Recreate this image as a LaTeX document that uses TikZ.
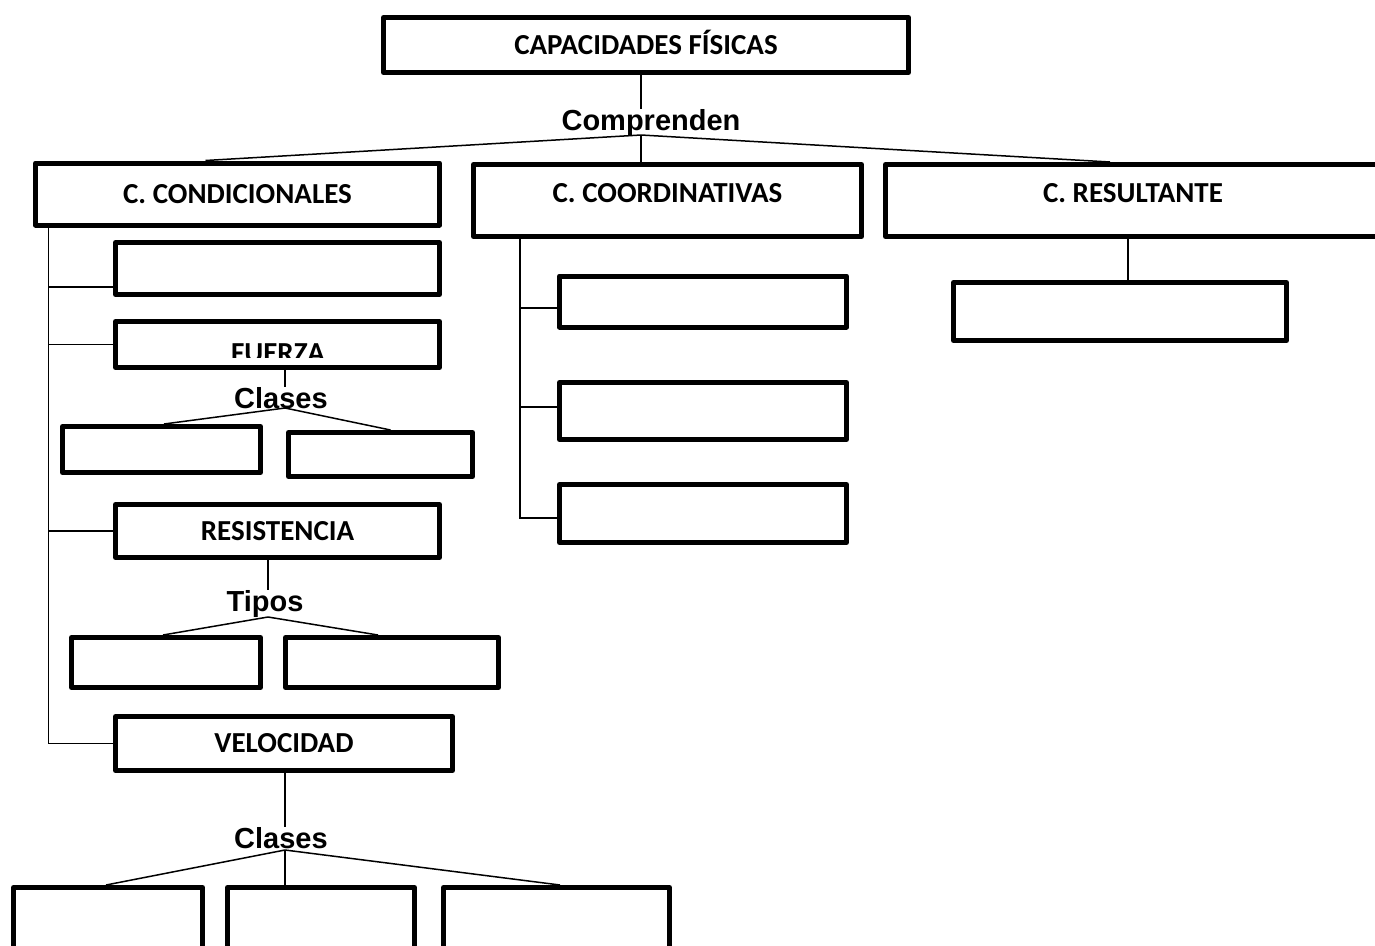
\documentclass[tikz,border=0pt]{standalone}
\usepackage{fontspec}
\setmainfont{Carlito}
\newfontfamily\arialfont{Liberation Sans}
\usetikzlibrary{calc}

\tikzset{
  box/.style = {draw, line width=5pt, line join=round, inner sep=0pt,
                font=\fontsize{29}{29}\selectfont\bfseries,
                text height=18.7pt, text depth=0pt},
  textup/.style = {text depth=15pt},
  tag/.style = {inner sep=0pt, anchor=base,
                font=\fontsize{29}{29}\selectfont\arialfont\bfseries},
  link/.style = {line width=1.5pt}
}

\begin{document}
\begin{tikzpicture}[x=1pt, y=-1pt]
  \clip (0,0) rectangle (1375,945);
  \fill[white] (0,0) rectangle (1375,945);

  % top level
  \node[box, minimum width=525pt, minimum height=55pt] (capac) at (646,45) {CAPACIDADES FÍSICAS};
  \node[tag] (comp) at (651,130) {Comprenden};
  \coordinate (cv) at (641,135);

  \node[box, minimum width=404pt, minimum height=62pt] (cond) at (237.5,194) {C. CONDICIONALES};
  \node[box, textup, minimum width=388pt, minimum height=72pt] (coord) at (667.5,200.5) {C. COORDINATIVAS};
  \node[box, textup, minimum width=495pt, minimum height=72pt] (result) at (1133,200.5) {C. RESULTANTE};

  \draw[link] (capac.south -| cv) -- (cv |- comp.north);
  \draw[link] (cv) -- ([xshift=-32pt]cond.north);
  \draw[link] (cv) -- (cv |- coord.north);
  \draw[link] (cv) -- ([xshift=-23pt]result.north);

  % condicionales
  \node[box, minimum width=324pt, minimum height=52pt] (cond1) at (277.5,268.5) {};
  \begin{scope}
    \clip (113,322) rectangle (442,357);
    \node[box, draw=none, anchor=base] (fuerzatxt) at (278,362) {FUERZA};
  \end{scope}
  \node[box, minimum width=324pt, minimum height=46pt] (fuerza) at (277.5,344.5) {};
  \node[box, minimum width=324pt, minimum height=53pt] (resist) at (277.5,531) {RESISTENCIA};
  \node[box, minimum width=337pt, minimum height=54pt] (veloc) at (284,743.5) {VELOCIDAD};

  \coordinate (csp) at ([xshift=15.5pt]cond.south west);
  \draw[link] (csp) |- (veloc.west);
  \draw[link] ([yshift=-18.5pt]cond1.west) -- ([yshift=-18.5pt]cond1.west -| csp);
  \foreach \n in {fuerza, resist}
    \draw[link] (\n.west) -- (\n.west -| csp);

  % fuerza: clases
  \node[tag] (fclases) at (281,408) {Clases};
  \coordinate (fv) at (285,408);
  \node[box, minimum width=198pt, minimum height=46pt] (fc1) at (161.5,449.5) {};
  \node[box, minimum width=184pt, minimum height=44pt] (fc2) at (380.5,454.5) {};
  \draw[link] (fuerza.south -| fv) -- (fv |- fclases.north);
  \draw[link] (fv) -- ([xshift=2.5pt]fc1.north);
  \draw[link] (fv) -- ([xshift=10pt]fc2.north);

  % resistencia: tipos
  \node[tag] (rtipos) at (265,611) {Tipos};
  \coordinate (rv) at (268,617);
  \node[box, minimum width=189pt, minimum height=50pt] (rt1) at (166,662.5) {};
  \node[box, minimum width=213pt, minimum height=50pt] (rt2) at (392,662.5) {};
  \draw[link] (resist.south -| rv) -- (rv |- rtipos.north);
  \draw[link] (rv) -- ([xshift=-3pt]rt1.north);
  \draw[link] (rv) -- ([xshift=-14pt]rt2.north);

  % velocidad: clases
  \node[tag] (vclases) at (281,848) {Clases};
  \coordinate (vv) at (285,850);
  \node[box, minimum width=189pt, minimum height=95pt] (vc1) at (108,935) {};
  \node[box, minimum width=187pt, minimum height=95pt] (vc2) at (321,935) {};
  \node[box, minimum width=226pt, minimum height=95pt] (vc3) at (556.5,935) {};
  \draw[link] (veloc.south -| vv) -- (vv |- vclases.north);
  \draw[link] (vv) -- ([xshift=-2pt]vc1.north);
  \draw[link] (vv) -- (vv |- vc2.north);
  \draw[link] (vv) -- ([xshift=3.5pt]vc3.north);

  % coordinativas
  \node[box, minimum width=287pt, minimum height=51pt] (k1) at (703,301.5) {};
  \node[box, minimum width=287pt, minimum height=57pt] (k2) at (703,411) {};
  \node[box, minimum width=287pt, minimum height=58pt] (k3) at (703,513.5) {};
  \coordinate (ksp) at ([xshift=49pt]coord.south west);
  \draw[link] (ksp) |- ([yshift=-4.5pt]k3.west);
  \draw[link] ([yshift=-6.5pt]k1.west) -- ([yshift=-6.5pt]k1.west -| ksp);
  \draw[link] ([yshift=4pt]k2.west) -- ([yshift=4pt]k2.west -| ksp);

  % resultante
  \node[box, minimum width=333pt, minimum height=58pt] (r1) at (1120,311.5) {};
  \coordinate (rx) at ([xshift=8pt]r1.north);
  \draw[link] (rx) -- (rx |- result.south);
\end{tikzpicture}
\end{document}
